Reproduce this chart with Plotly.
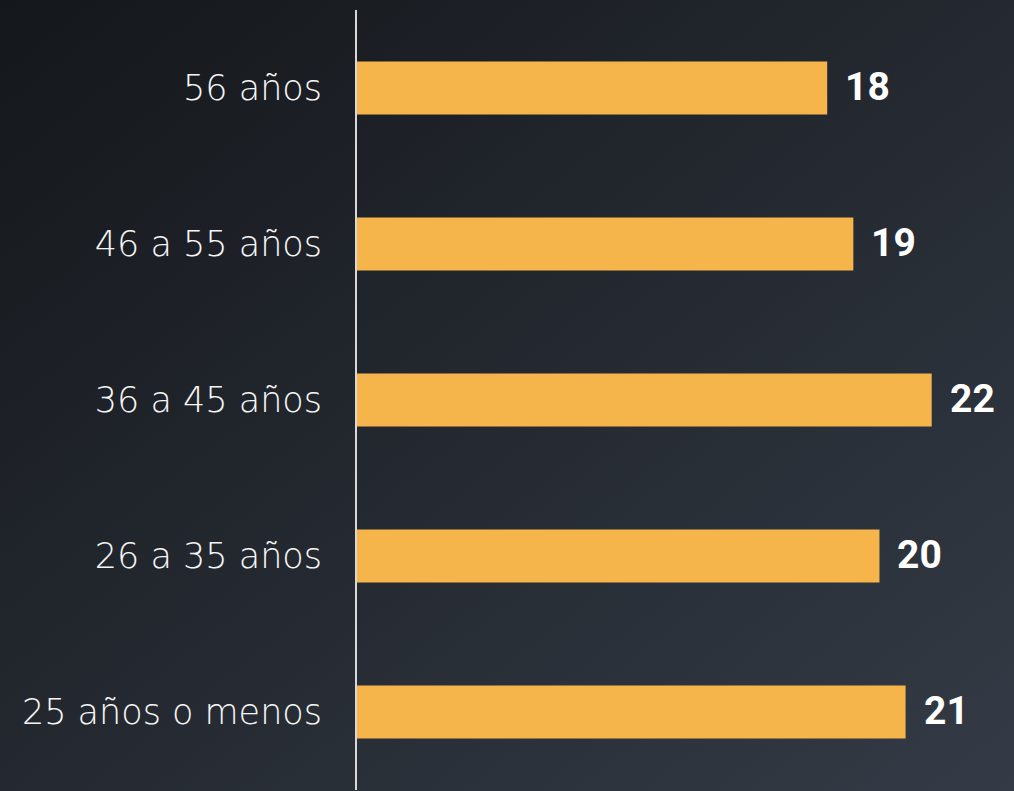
import base64
import plotly.graph_objects as go

categories = ["25 años o menos", "26 a 35 años", "36 a 45 años", "46 a 55 años", "56 años"]
values = [21, 20, 22, 19, 18]

W, H = 1014, 791
ML, MR, MT, MB = 357, 0, 10, 1
PW, PH = W - ML - MR, H - MT - MB

svg = (
    '<svg xmlns="http://www.w3.org/2000/svg" width="1014" height="791">'
    '<defs><linearGradient id="g" x1="0" y1="0" x2="1" y2="1">'
    '<stop offset="0" stop-color="#14171b"/>'
    '<stop offset="1" stop-color="#343b46"/>'
    '</linearGradient></defs>'
    '<rect width="1014" height="791" fill="url(#g)"/></svg>'
)
src = "data:image/svg+xml;base64," + base64.b64encode(svg.encode()).decode()

fig = go.Figure()
fig.add_trace(go.Bar(
    y=categories, x=values, orientation="h",
    marker=dict(color="#f5b54a", line=dict(width=0)),
    hoverinfo="skip",
))

for c, v in zip(categories, values):
    fig.add_annotation(
        x=v, y=c, text=f"<b>{v}</b>", showarrow=False,
        xanchor="left", yanchor="middle", xshift=16, yshift=1,
        font=dict(family="Roboto", size=39, color="#ffffff"),
    )

fig.add_layout_image(
    source=src, xref="paper", yref="paper",
    x=-ML / PW, y=1 + MT / PH, sizex=W / PW, sizey=H / PH,
    xanchor="left", yanchor="top", sizing="stretch", layer="below",
)

fig.update_layout(
    width=W, height=H,
    margin=dict(l=ML, r=MR, t=MT, b=MB, pad=0),
    paper_bgcolor="#1f2329",
    plot_bgcolor="rgba(0,0,0,0)",
    bargap=0.66,
    showlegend=False,
    xaxis=dict(range=[0, 25.15], visible=False, fixedrange=True),
    yaxis=dict(
        categoryorder="array", categoryarray=categories,
        range=[-0.5, 4.5], fixedrange=True,
        showline=True, linecolor="#d8d8d8", linewidth=2,
        showgrid=False, zeroline=False, ticks="",
        ticklabelstandoff=26,
        tickfont=dict(family="DejaVu Sans", size=35, color="#f6f6f6", weight=200),
    ),
)

fig.write_html(
    "out.html",
    config={"displayModeBar": False},
    post_script="document.body.style.margin='0';document.body.style.background='#1f2329';",
)
